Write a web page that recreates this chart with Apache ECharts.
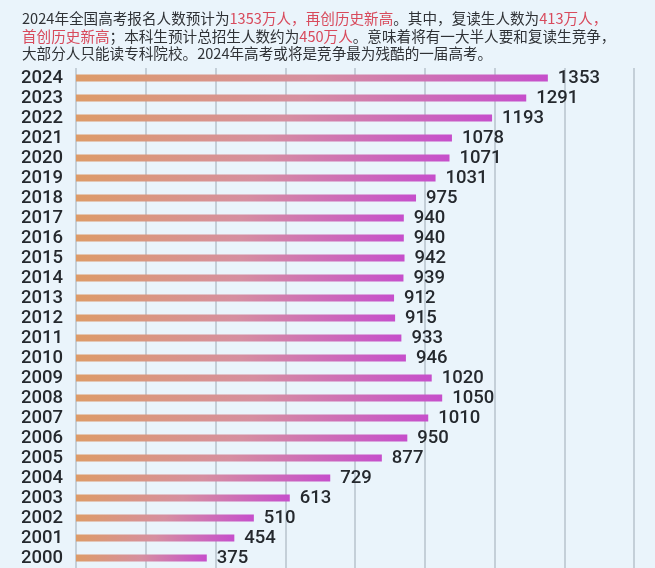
<!DOCTYPE html>
<html>
<head>
<meta charset="utf-8">
<script src="https://cdn.jsdelivr.net/npm/echarts@6/dist/echarts.min.js"></script>
<style>
html,body{margin:0;padding:0;background:#eaf4fb;}
#c{width:655px;height:568px;}
</style>
</head>
<body>
<div id="c"></div>
<script>
const years = ['2000','2001','2002','2003','2004','2005','2006','2007','2008','2009','2010','2011','2012','2013','2014','2015','2016','2017','2018','2019','2020','2021','2022','2023','2024'];
const applicants = [375,454,510,613,729,877,950,1010,1050,1020,946,933,915,912,939,942,940,940,975,1031,1071,1078,1193,1291,1353];
const xTicksMax = 1600;
const xTickStep = 200;
const titleText = '{n|2024年全国高考报名人数预计为}{r|1353万人，再创历史新高}{n|。其中，复读生人数为}{r|413万人，}\n' +
  '{r|首创历史新高}{n|；本科生预计总招生人数约为}{r|450万人}{n|。意味着将有一大半人要和复读生竞争，}\n' +
  '{n|大部分人只能读专科院校。2024年高考或将是竞争最为残酷的一届高考。}';

const chart = echarts.init(document.getElementById('c'));
const cjk = '"Noto Sans CJK SC", "Noto Sans", sans-serif';
const num = 'Roboto, "Liberation Sans", Arial, sans-serif';
chart.setOption({
  backgroundColor: '#eaf4fb',
  animation: false,
  title: {
    text: titleText,
    left: 17,
    top: 5,
    textStyle: {
      fontFamily: cjk,
      fontSize: 14.6,
      fontWeight: 'normal',
      lineHeight: 17.5,
      color: '#333',
      rich: {
        n: { fontFamily: cjk, fontSize: 14.6, lineHeight: 17.5, color: '#2f3236' },
        r: { fontFamily: cjk, fontSize: 14.6, lineHeight: 17.5, color: '#d84a5c' }
      }
    }
  },
  grid: { left: 76, right: 21, top: 68, bottom: 0, containLabel: false },
  xAxis: {
    type: 'value',
    min: 0,
    max: xTicksMax,
    interval: xTickStep,
    axisLabel: { show: false },
    axisLine: { show: false },
    axisTick: { show: false },
    splitLine: { show: true, lineStyle: { color: '#b7c3cc', width: 1.5 } }
  },
  yAxis: {
    type: 'category',
    data: years,
    axisLine: { show: false },
    axisTick: { show: false },
    axisLabel: {
      interval: 0,
      margin: 13,
      fontFamily: num,
      fontWeight: 500,
      fontSize: 18.5,
      color: '#25292e',
      padding: [0, 0, 3, 0]
    }
  },
  series: [{
    type: 'bar',
    data: applicants,
    barWidth: 7,
    itemStyle: {
      color: new echarts.graphic.LinearGradient(0, 0, 1, 0, [
        { offset: 0, color: '#dd9b68' },
        { offset: 0.5, color: '#d68fa0' },
        { offset: 1, color: '#c64fcb' }
      ])
    },
    label: {
      show: true,
      position: 'right',
      distance: 10,
      fontFamily: num,
      fontWeight: 500,
      fontSize: 18.5,
      color: '#25292e',
      padding: [0, 0, 3, 0]
    }
  }]
});
</script>
</body>
</html>
